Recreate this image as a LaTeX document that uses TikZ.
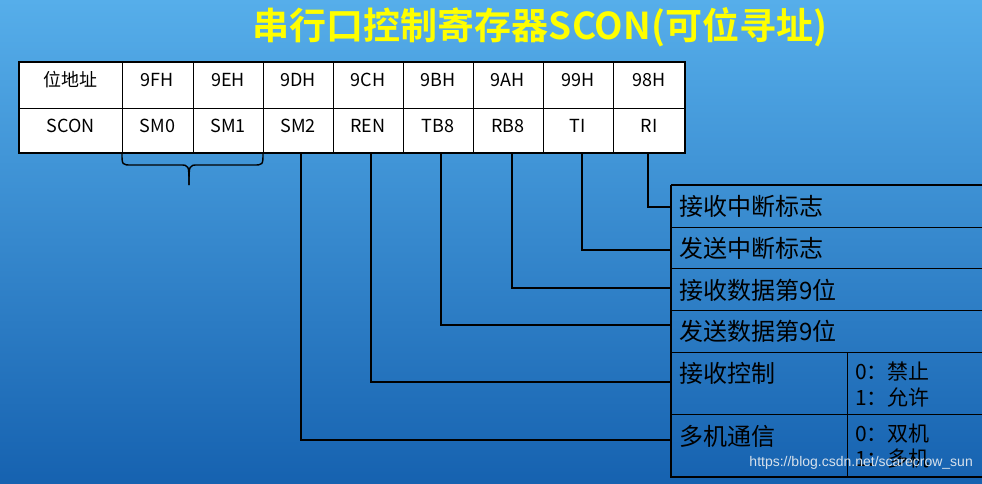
\documentclass[tikz,border=0pt]{standalone}
\usepackage{fontspec}
\setmainfont{Noto Sans CJK SC}
\newfontfamily\titlefont{Noto Sans CJK SC Bold}
\begin{document}
\begin{tikzpicture}[x=1pt,y=-1pt,
  tcell/.style={inner sep=0,font=\fontsize{18}{20}\selectfont},
  lbl/.style={anchor=west,inner sep=0,font=\fontsize{24}{26}\selectfont},
  sm/.style={anchor=west,inner sep=0,font=\fontsize{21}{22}\selectfont},
  wire/.style={line width=1.6pt}]
\useasboundingbox (0,0) rectangle (982,483);
\shade[top color={rgb,255:red,86;green,174;blue,234}, bottom color={rgb,255:red,22;green,98;blue,176}] (0,0) rectangle (982,483);
\node[text={rgb,255:red,255;green,255;blue,0},font=\titlefont\fontsize{37}{40}\selectfont] (title) at (540,27) {串行口控制寄存器SCON(可位寻址)};
% table
\fill[white] (19,62) rectangle (685,153);
\foreach \x in {122,193,263,333,403,473,543,613} \draw[line width=1pt] (\x,62) -- (\x,153);
\draw[line width=1pt] (19,108) -- (685,108);
\draw[line width=2.2pt] (19,62) rectangle (685,153);
\foreach \n/\a/\b/\t/\s in {c0/19/122/位地址/SCON, c1/122/193/9FH/SM0, c2/193/263/9EH/SM1, c3/263/333/9DH/SM2, c4/333/403/9CH/REN, c5/403/473/9BH/TB8, c6/473/543/9AH/RB8, c7/543/613/99H/TI, c8/613/685/98H/RI}{
  \node[tcell] (\n a) at ({(\a+\b)/2},80) {\t};
  \node[tcell] (\n b) at ({(\a+\b)/2},126) {\s};
}
% brace
\draw[line width=1.4pt] (122,153) .. controls (122,165) .. (132,165) -- (180,165) .. controls (189,165) .. (189,185);
\draw[line width=1.4pt] (263,153) .. controls (263,165) .. (253,165) -- (198,165) .. controls (189,165) .. (189,185);
% right box
\draw[line width=2.4pt] (671,185) -- (990,185);
\draw[line width=2.4pt] (671,185) -- (671,477) -- (990,477);
\foreach \y in {227,268,310,352,414} \draw[line width=1pt] (671,\y) -- (990,\y);
\draw[line width=1pt] (847,352) -- (847,477);
\node[lbl] (r1) at (679,206) {接收中断标志};
\node[lbl] (r2) at (679,248) {发送中断标志};
\node[lbl] (r3) at (679,290) {接收数据第9位};
\node[lbl] (r4) at (679,331) {发送数据第9位};
\node[lbl] (r5) at (679,373) {接收控制};
\node[lbl] (r6) at (679,436) {多机通信};
\node[sm] (v5a) at (855,372) {0：禁止};
\node[sm] (v5b) at (855,397) {1：允许};
\node[sm] (v6a) at (855,434) {0：双机};
\node[sm] (v6b) at (855,459) {1：多机};
% wires
\coordinate (e1) at (671,207); \coordinate (e2) at (671,250); \coordinate (e3) at (671,288);
\coordinate (e4) at (671,325); \coordinate (e5) at (671,382); \coordinate (e6) at (671,440);
\draw[wire] (648,153) |- (e1);
\draw[wire] (582,153) |- (e2);
\draw[wire] (512,153) |- (e3);
\draw[wire] (441,153) |- (e4);
\draw[wire] (371,153) |- (e5);
\draw[wire] (301,153) |- (e6);
\node[anchor=east,inner sep=0,text={rgb,255:red,215;green,225;blue,235},font=\fontspec{Liberation Sans}\fontsize{14}{16}\selectfont] (wm) at (973,463) {https://blog.csdn.net/scarecrow\_sun};
\end{tikzpicture}
\end{document}
